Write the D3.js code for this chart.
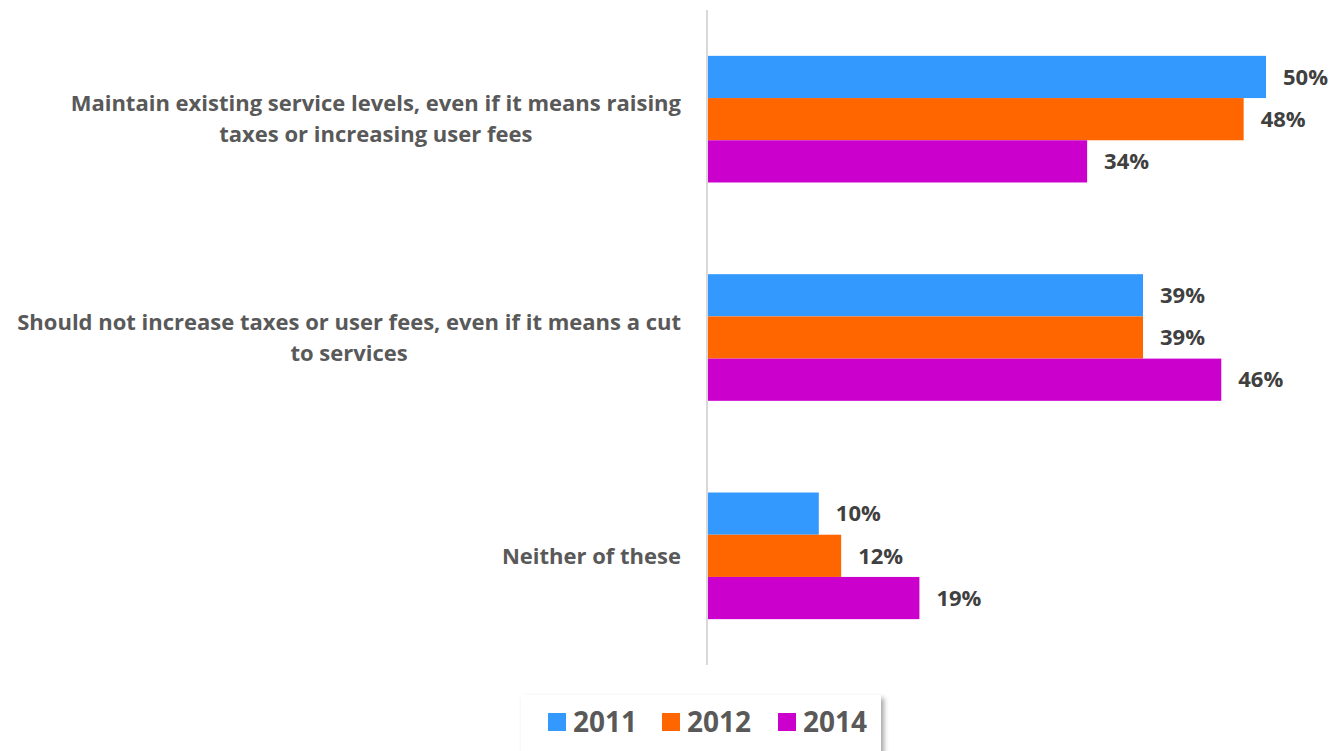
<!DOCTYPE html>
<html>
<head>
<meta charset="utf-8">
<script src="https://cdn.jsdelivr.net/npm/d3@7"></script>
<style>
html,body{margin:0;padding:0;background:#fff;}
svg{display:block;font-family:"Open Sans", Lato, sans-serif;}
</style>
</head>
<body>
<svg id="chart" width="1334" height="751"></svg>
<script>
const categories = [
  ["Maintain existing service levels, even if it means raising", "taxes or increasing user fees"],
  ["Should not increase taxes or user fees, even if it means a cut", "to services"],
  ["Neither of these"]
];
const seriesNames = ["2011", "2012", "2014"];
const values2011 = [50, 39, 10];
const values2012 = [48, 39, 12];
const values2014 = [34, 46, 19];
const colors = ["#3399FF", "#FF6600", "#CC00CC"];

const seriesValues = [values2011, values2012, values2014];

(function() {
const svg = d3.select("#chart");
const axisX = 707, plotTop = 10, plotBottom = 665;

const x = d3.scaleLinear().domain([0, 50]).range([axisX, 1266]);
const y0 = d3.scaleBand().domain(d3.range(categories.length)).range([plotTop, plotBottom]).paddingInner(0.42).paddingOuter(0.21);
const y1 = d3.scaleBand().domain(d3.range(seriesNames.length)).range([0, y0.bandwidth()]);

const groups = svg.selectAll("g.cat").data(categories).join("g")
  .attr("class", "cat")
  .attr("transform", (d, i) => `translate(0,${y0(i)})`);

groups.each(function(cat, ci) {
  const g = d3.select(this);
  seriesNames.forEach((s, si) => {
    const v = seriesValues[si][ci];
    g.append("rect")
      .attr("x", x(0))
      .attr("y", y1(si))
      .attr("width", x(v) - x(0))
      .attr("height", y1.bandwidth())
      .attr("fill", colors[si]);
    g.append("text")
      .attr("x", x(v) + 17)
      .attr("y", y1(si) + y1.bandwidth() / 2)
      .attr("dy", "0.35em")
      .attr("font-size", 22)
      .attr("font-weight", "bold")
      .attr("fill", "#404040")
      .text(v + "%");
  });
});

svg.append("line")
  .attr("x1", axisX).attr("x2", axisX)
  .attr("y1", plotTop).attr("y2", plotBottom)
  .attr("stroke", "#d9d9d9").attr("stroke-width", 2);

const labelRight = 681, lineH = 31;
categories.forEach((lines, ci) => {
  const cy = y0(ci) + y0.bandwidth() / 2;
  const g = svg.append("g");
  const texts = lines.map((ln, li) => g.append("text")
    .attr("y", cy + (li - (lines.length - 1) / 2) * lineH)
    .attr("dy", "0.35em")
    .attr("font-size", 22)
    .attr("font-weight", "bold")
    .attr("fill", "#595959")
    .attr("text-anchor", "middle")
    .text(ln));
  const maxW = d3.max(texts, t => t.node().getComputedTextLength());
  texts.forEach(t => t.attr("x", labelRight - maxW / 2));
});

const defs = svg.append("defs");
const f = defs.append("filter").attr("id", "shadow").attr("x", "-10%").attr("y", "-20%").attr("width", "130%").attr("height", "160%");
f.append("feDropShadow").attr("dx", 3).attr("dy", 3).attr("stdDeviation", 2.5).attr("flood-color", "#000").attr("flood-opacity", 0.35);
const legend = svg.append("g");
legend.append("rect").attr("x", 521).attr("y", 695).attr("width", 360).attr("height", 62)
  .attr("fill", "#fff").attr("filter", "url(#shadow)");
const legX = [548, 662, 778];
seriesNames.forEach((s, i) => {
  legend.append("rect").attr("x", legX[i]).attr("y", 713).attr("width", 18).attr("height", 18).attr("fill", colors[i]);
  legend.append("text").attr("x", legX[i] + 25).attr("y", 722).attr("dy", "0.35em")
    .attr("font-size", 28).attr("font-weight", "bold").attr("fill", "#595959").text(s);
});
})();
</script>
</body>
</html>
